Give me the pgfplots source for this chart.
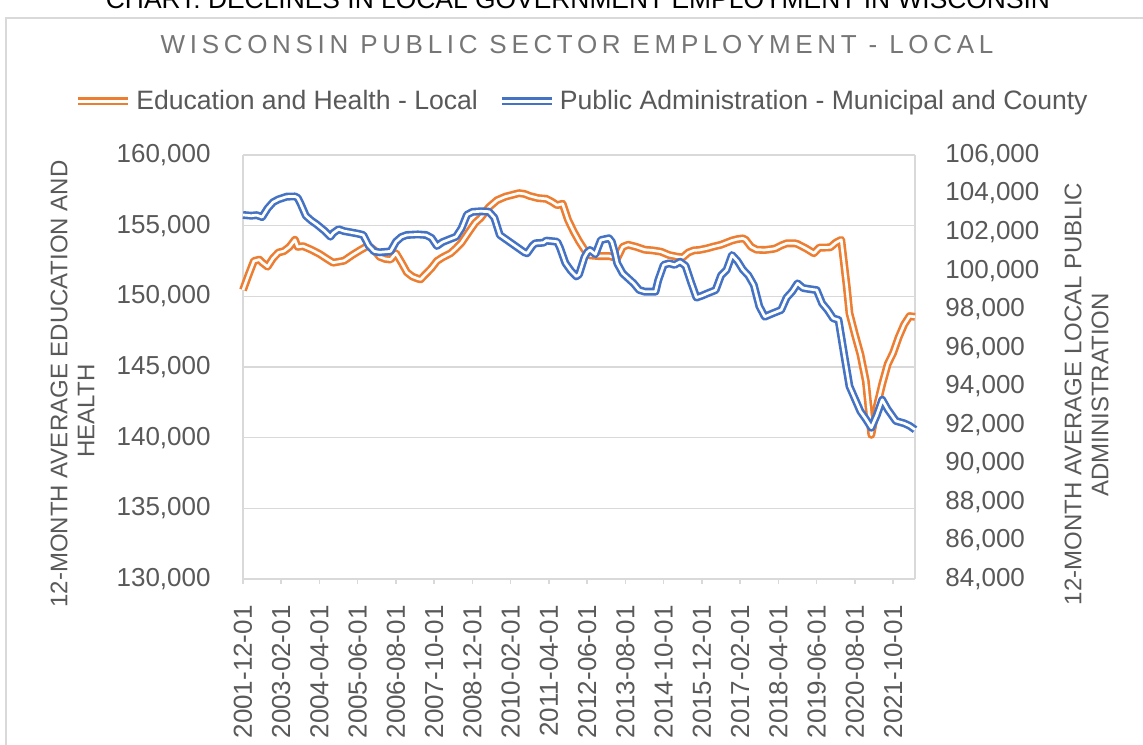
\documentclass[border=0pt]{standalone}
\usepackage{pgfplots}
\pgfplotsset{compat=1.18}
\usepackage{fontspec}
\setmainfont{Liberation Sans}
\definecolor{edu}{HTML}{ED7D31}
\definecolor{pub}{HTML}{4472C4}
\definecolor{txt}{HTML}{595959}
\definecolor{ttl}{HTML}{767676}
\definecolor{grd}{HTML}{D9D9D9}

\pgfplotstableread{
m v
0 150450
2 151500
4 152500
6 152600
7 152400
9 152100
11 152700
13 153100
15 153200
17 153500
19 154000
20 153500
22 153550
25 153300
28 153000
31 152620
33 152380
35 152450
37 152520
40 152920
43 153280
45 153500
46 153560
48 153280
50 152800
52 152650
54 152600
56 153050
58 152400
60 151700
62 151400
64 151250
65 151200
67 151600
69 152000
71 152500
73 152750
76 153050
78 153400
80 153800
83 154650
85 155200
87 155550
90 156300
93 156800
96 157050
99 157200
101 157300
103 157250
105 157100
108 156950
111 156900
113 156700
115 156450
117 156550
119 155400
121 154600
123 153900
125 153300
127 152900
130 152850
134 152850
137 152700
139 153500
141 153650
144 153500
147 153300
150 153250
153 153160
156 152920
159 152800
161 152760
163 153100
165 153250
167 153280
170 153400
172 153510
175 153650
177 153800
179 153950
181 154050
183 154100
184 154000
186 153500
188 153300
191 153280
194 153350
195 153400
197 153600
199 153750
202 153750
203 153700
206 153400
209 153050
211 153450
213 153450
215 153470
217 153800
219 154000
221 150700
222 148800
224 147300
226 145900
228 144000
230 140200
232 142200
234 143800
236 145200
238 146000
240 147100
242 148000
244 148600
246 148550
}\edu

\pgfplotstableread{
m v
0 102890
3 102850
5 102880
7 102780
9 103230
11 103550
13 103700
16 103840
19 103850
20 103780
21 103500
23 102850
25 102600
27 102400
30 102050
32 101760
33 101950
35 102150
37 102050
39 102000
42 101920
44 101850
46 101300
48 101000
50 100950
54 101000
56 101500
58 101750
60 101850
64 101880
67 101850
69 101700
71 101280
73 101480
76 101650
78 101760
80 102200
82 102900
84 103050
87 103080
90 103060
92 102750
93 102300
94 101850
97 101550
100 101250
103 100950
104 100900
106 101300
107 101420
110 101450
111 101560
115 101500
116 101200
118 100400
120 100000
122 99700
123 99800
125 100700
126 100950
127 101070
129 100850
131 101590
134 101680
135 101500
136 101000
137 100380
139 99860
141 99600
143 99340
145 99000
147 98910
151 98910
152 99500
154 100300
156 100380
158 100300
160 100460
162 100250
164 99400
166 98600
168 98700
170 98820
173 98990
175 99750
177 100030
179 100810
181 100500
183 100050
185 99750
187 99250
189 98150
191 97610
194 97790
197 97960
199 98600
201 98910
203 99340
205 99100
207 99050
210 98990
212 98300
214 97960
216 97530
218 97440
220 95700
222 94000
224 93350
226 92700
228 92300
230 91850
232 92500
234 93300
236 92800
237 92600
239 92200
242 92080
244 91950
246 91750
}\pub

\pgfplotsset{
  dbl/.style={line width=1.3pt, double=white, double distance=1.35pt, line join=round},
  base/.style={
    scale only axis, width=336pt, height=212pt,
    at={(121.5pt,82.5pt)}, anchor=south west,
    xmin=0, xmax=246,
    scaled y ticks=false, scaled x ticks=false,
    tick label style={font=\fontsize{13}{15}\selectfont, text=txt},
    /pgf/number format/assume math mode=true,
    tick align=outside, major tick length=2.5pt,
    clip=false,
  },
}

\begin{document}
\begin{tikzpicture}
\useasboundingbox (0,0) rectangle (571.5pt,372pt);
\fill[white] (0,0) rectangle (571.5pt,372pt);
\draw[grd, line width=0.75pt] (3pt,-2pt) -- (3pt,363pt) -- (575pt,363pt);
\node[anchor=base, font=\fontsize{13.2}{15}\selectfont] at (289pt,367.5pt) {CHART: DECLINES IN LOCAL GOVERNMENT EMPLOYMENT IN WISCONSIN};
\node[font={\fontsize{13}{15}\selectfont\addfontfeature{LetterSpace=18}}, text=ttl] at (288.5pt,349.5pt) {WISCONSIN PUBLIC SECTOR EMPLOYMENT - LOCAL};

\node[rotate=90, font=\fontsize{12}{14}\selectfont, text=txt] at (29.5pt,180pt) {12-MONTH AVERAGE EDUCATION AND};
\node[rotate=90, font=\fontsize{12}{14}\selectfont, text=txt] at (43pt,166.5pt) {HEALTH};
\node[rotate=90, font=\fontsize{12}{14}\selectfont, text=txt] at (536.5pt,175pt) {12-MONTH AVERAGE LOCAL PUBLIC};
\node[rotate=90, font=\fontsize{12}{14}\selectfont, text=txt] at (550pt,174.5pt) {ADMINISTRATION};

\begin{axis}[base,
  ymin=130000, ymax=160000,
  ytick={130000,135000,...,160000},
  yticklabels={{130,000},{135,000},{140,000},{145,000},{150,000},{155,000},{160,000}},
  ymajorgrids, major grid style={grd, line width=0.75pt},
  axis line style={grd, line width=0.75pt},
  ytick style={draw=none},
  xtick={0,14,...,238},
  xticklabels={2001-12-01,2003-02-01,2004-04-01,2005-06-01,2006-08-01,2007-10-01,2008-12-01,2010-02-01,2011-04-01,2012-06-01,2013-08-01,2014-10-01,2015-12-01,2017-02-01,2018-04-01,2019-06-01,2020-08-01,2021-10-01},
  xtick style={grd, line width=0.75pt},
  xticklabel style={rotate=90, anchor=east, inner sep=0pt},
  xticklabel shift=10.5pt,
  yticklabel style={anchor=east, inner sep=0pt},
  yticklabel shift=13.5pt,
  axis x line*=bottom, axis y line=box,
]
\addplot[edu, dbl] table[x=m, y=v] {\edu};
\end{axis}

\begin{axis}[base,
  ymin=84000, ymax=106000,
  ytick={84000,86000,...,106000},
  yticklabels={{84,000},{86,000},{88,000},{90,000},{92,000},{94,000},{96,000},{98,000},{100,000},{102,000},{104,000},{106,000}},
  axis x line=none, axis y line*=right,
  axis line style={draw=none},
  ytick style={draw=none},
  yticklabel style={anchor=west, inner sep=0pt},
  yticklabel shift=12.5pt,
  legend style={at={(0.506,1.127)}, anchor=center, draw=none, fill=none,
    legend columns=2, inner sep=0pt,
    font=\fontsize{13.3}{15}\selectfont, text=txt,
    /tikz/every even column/.append style={column sep=8pt},
    nodes={inner xsep=2pt}},
  legend image code/.code={\draw[#1] (0pt,0pt) -- (25pt,0pt);},
]
\addlegendimage{edu, dbl}
\addlegendentry{Education and Health - Local}
\addplot[pub, dbl] table[x=m, y=v] {\pub};
\addlegendentry{Public Administration - Municipal and County}
\end{axis}
\end{tikzpicture}
\end{document}
